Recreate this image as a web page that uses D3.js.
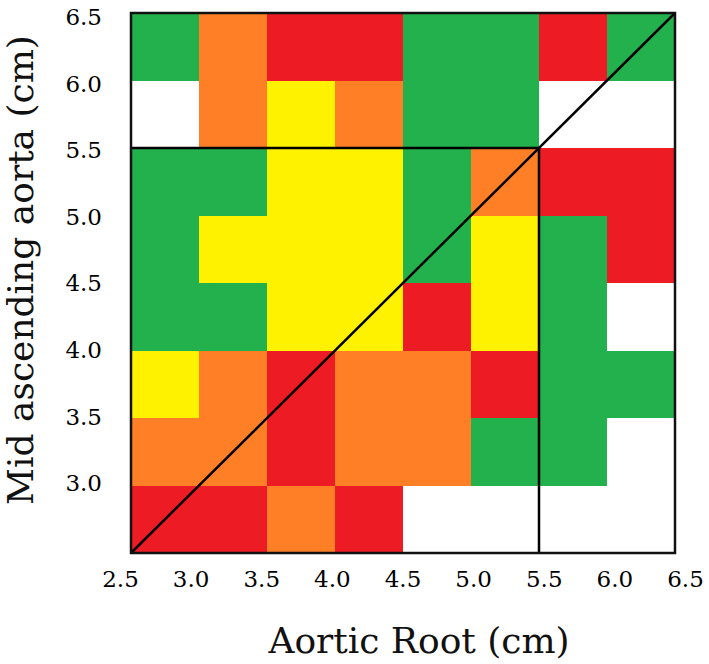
<!DOCTYPE html>
<html>
<head>
<meta charset="utf-8">
<script src="https://cdn.jsdelivr.net/npm/d3@7"></script>
<style>
  body { margin: 0; background: #fff; }
  svg { display: block; }
</style>
</head>
<body>
<div id="chart"></div>
<script>
// bins (cm) for both axes
var xEdges = [2.5, 3.0, 3.5, 4.0, 4.5, 5.0, 5.5, 6.0, 6.5];
var yEdges = [2.5, 3.0, 3.5, 4.0, 4.5, 5.0, 5.5, 6.0, 6.5];
var xTicks = [2.5, 3.0, 3.5, 4.0, 4.5, 5.0, 5.5, 6.0, 6.5];
var yTicks = [3.0, 3.5, 4.0, 4.5, 5.0, 5.5, 6.0, 6.5];

// cell level per row, top row (6.0-6.5) first; 0 = empty, 1 green, 2 yellow, 3 orange, 4 red
var rowLevels = [
  [1, 3, 4, 4, 1, 1, 4, 1],
  [0, 3, 2, 3, 1, 1, 0, 0],
  [1, 1, 2, 2, 1, 3, 4, 4],
  [1, 2, 2, 2, 1, 2, 1, 4],
  [1, 1, 2, 2, 4, 2, 1, 0],
  [2, 3, 4, 3, 3, 4, 1, 1],
  [3, 3, 4, 3, 3, 1, 1, 0],
  [4, 4, 3, 4, 0, 0, 0, 0]
];

// reference lines [x1, y1, x2, y2]
var refLines = [
  [2.5, 2.5, 6.5, 6.5],
  [2.5, 5.5, 5.5, 5.5],
  [5.5, 2.5, 5.5, 5.5]
];

function draw() {
  var w = 709, h = 664;
  var left = 131, right = 675, top = 13, bottom = 553;

  var xScale = d3.scaleLinear().domain([2.5, 6.5]).range([left, right]);
  var yScale = d3.scaleLinear().domain([2.5, 6.5]).range([bottom, top]);
  // tick labels in the original sit slightly off the grid
  var xLabelScale = d3.scaleLinear().domain([2.5, 6.5]).range([120, 685]);
  var yLabelScale = d3.scaleLinear().domain([2.5, 6.5]).range([550, 17]);

  var color = d3.scaleOrdinal()
    .domain([0, 1, 2, 3, 4])
    .range(["#ffffff", "#22b14c", "#fff200", "#ff7f27", "#ed1c24"]);

  var svg = d3.select("#chart").append("svg")
    .attr("width", w)
    .attr("height", h);

  var cells = [];
  rowLevels.forEach(function(row, r) {
    var yi = yEdges.length - 2 - r;
    row.forEach(function(lv, c) {
      cells.push({x0: xEdges[c], x1: xEdges[c + 1], y0: yEdges[yi], y1: yEdges[yi + 1], level: lv});
    });
  });

  svg.append("g").selectAll("rect")
    .data(cells)
    .enter()
    .append("rect")
    .attr("x", function(d) { return xScale(d.x0); })
    .attr("y", function(d) { return yScale(d.y1); })
    .attr("width", function(d) { return xScale(d.x1) - xScale(d.x0) + 0.5; })
    .attr("height", function(d) { return yScale(d.y0) - yScale(d.y1) + 0.5; })
    .attr("fill", function(d) { return color(d.level); })
    .attr("shape-rendering", "crispEdges");

  svg.append("g").selectAll("line")
    .data(refLines)
    .enter()
    .append("line")
    .attr("x1", function(d) { return xScale(d[0]); })
    .attr("y1", function(d) { return yScale(d[1]); })
    .attr("x2", function(d) { return xScale(d[2]); })
    .attr("y2", function(d) { return yScale(d[3]); })
    .attr("stroke", "#000")
    .attr("stroke-width", 2.5);

  // frame
  svg.append("rect")
    .attr("x", xScale(2.5))
    .attr("y", yScale(6.5))
    .attr("width", xScale(6.5) - xScale(2.5))
    .attr("height", yScale(2.5) - yScale(6.5))
    .attr("fill", "none")
    .attr("stroke", "#111")
    .attr("stroke-width", 2.5);

  var xAxis = d3.axisBottom(xLabelScale)
    .tickValues(xTicks)
    .tickSize(0)
    .tickPadding(0)
    .tickFormat(d3.format(".1f"));
  var gx = svg.append("g")
    .attr("transform", "translate(0," + 571 + ")")
    .call(xAxis);
  gx.select(".domain").remove();
  gx.selectAll("text")
    .attr("dy", "0.71em")
    .attr("font-family", "DejaVu Serif")
    .attr("font-size", 23)
    .attr("fill", "#000");

  var yAxis = d3.axisLeft(yLabelScale)
    .tickValues(yTicks)
    .tickSize(0)
    .tickPadding(0)
    .tickFormat(d3.format(".1f"));
  var gy = svg.append("g")
    .attr("transform", "translate(" + 102 + ",0)")
    .call(yAxis);
  gy.select(".domain").remove();
  gy.selectAll("text")
    .attr("font-family", "DejaVu Serif")
    .attr("font-size", 23)
    .attr("fill", "#000");

  svg.append("text")
    .attr("x", 419)
    .attr("y", 653)
    .attr("text-anchor", "middle")
    .attr("font-family", "DejaVu Serif")
    .attr("font-size", 36)
    .attr("fill", "#111")
    .text("Aortic Root (cm)");

  svg.append("text")
    .attr("transform", "translate(33,270) rotate(-90)")
    .attr("text-anchor", "middle")
    .attr("font-family", "DejaVu Serif")
    .attr("font-size", 36)
    .attr("fill", "#111")
    .text("Mid ascending aorta (cm)");
}

draw();
</script>
</body>
</html>
